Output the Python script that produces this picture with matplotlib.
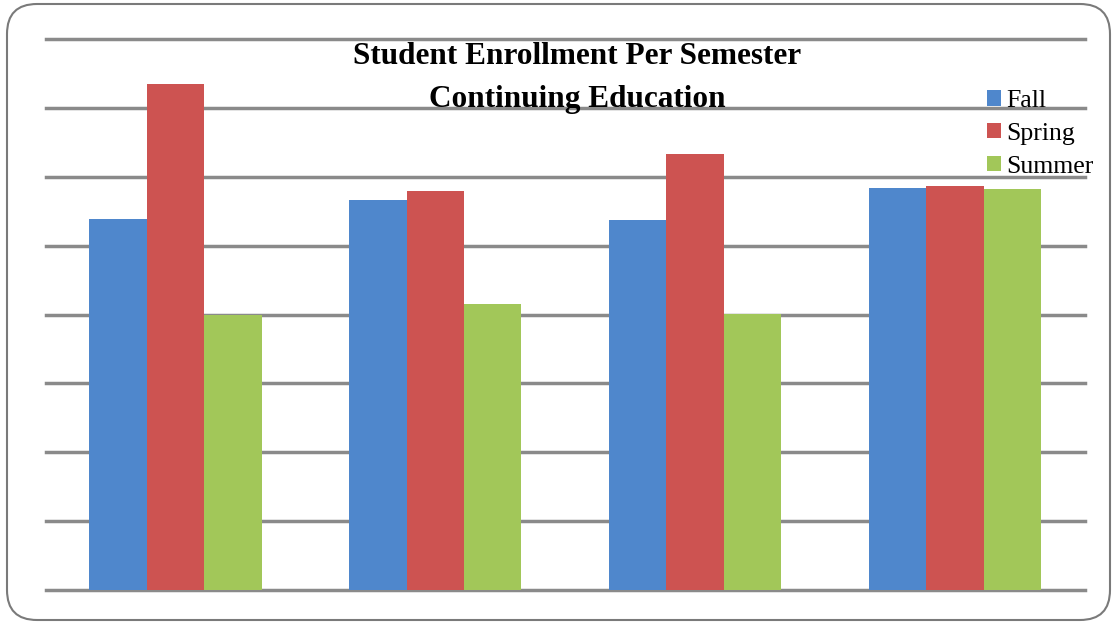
import numpy as np
import matplotlib
matplotlib.use("Agg")
import matplotlib.pyplot as plt
from matplotlib.patches import FancyBboxPatch

# values (grid step = 100, no axis labels shown)
groups = ["Group 1", "Group 2", "Group 3", "Group 4"]
series = ["Fall", "Spring", "Summer"]
fall = [538, 566, 537, 583]
spring = [734, 579, 633, 586]
summer = [399, 415, 401, 582]
colors = ["#4F87CC", "#CD5351", "#A2C759"]

W, H = 1114, 622
fig = plt.figure(figsize=(W / 100, H / 100), dpi=100)

# rounded frame drawn in pixel space on a background axes
bg = fig.add_axes([0, 0, 1, 1])
bg.set_xlim(0, W)
bg.set_ylim(H, 0)
bg.axis("off")
frame = FancyBboxPatch((7, 4), 1103, 616, boxstyle="round,pad=0,rounding_size=30",
                       fill=False, edgecolor="#7a7a7a", linewidth=1.5)
bg.add_patch(frame)

# plot area
left, right, top, bottom = 45.5, 1085, 39, 590
ax = fig.add_axes([left / W, 1 - bottom / H, (right - left) / W, (bottom - top) / H])
ax.set_xlim(-0.5, len(groups) - 0.5)
ax.set_ylim(0, 800)
ax.set_yticks(np.arange(0, 801, 100))
ax.set_xticks([])
ax.tick_params(left=False, labelleft=False)
for s in ax.spines.values():
    s.set_visible(False)
ax.set_facecolor("none")
ax.yaxis.grid(True, color="#8a8a8a", linewidth=2.5)
for gl in ax.get_ygridlines():
    gl.set_clip_on(False)
ax.set_axisbelow(True)

x = np.arange(len(groups))
w = 0.221
for i, (vals, c, name) in enumerate(zip([fall, spring, summer], colors, series)):
    ax.bar(x + (i - 1) * w, vals, width=w, color=c, label=name, zorder=3)

fig.text(577 / W, 1 - 57 / H, "Student Enrollment Per Semester", ha="center", va="center",
         family="Liberation Serif", fontweight="bold", fontsize=22.5)
fig.text(577 / W, 1 - 99 / H, "Continuing Education", ha="center", va="center",
         family="Liberation Serif", fontweight="bold", fontsize=22.5)

ax.legend(loc="upper left", bbox_to_anchor=(987 / W, 1 - 90 / H), bbox_transform=fig.transFigure,
          frameon=False, prop={"family": "Liberation Serif", "size": 18.5},
          handlelength=0.55, handleheight=0.55, handletextpad=0.2, labelspacing=0.42,
          borderpad=0, borderaxespad=0)

fig.savefig("out.png", dpi=100)
